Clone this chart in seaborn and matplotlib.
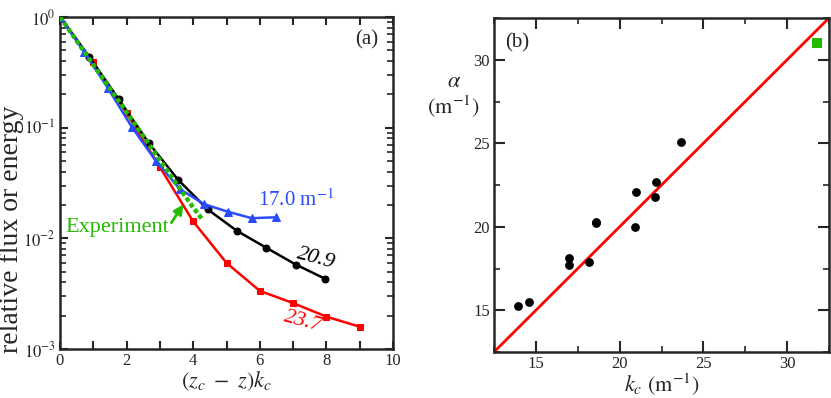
import numpy as np
import pandas as pd
import matplotlib
matplotlib.use("Agg")
import matplotlib.pyplot as plt
from matplotlib.ticker import MultipleLocator, LogLocator, NullFormatter, FuncFormatter
import seaborn as sns

# ---------------- data ----------------
# panel (a): relative flux vs (z_c - z) k_c
blue_x = [0, 0.72, 1.44, 2.16, 2.88, 3.60, 4.32, 5.04, 5.76, 6.48]
blue_y = [1.0, 0.486, 0.227, 0.101, 0.050, 0.0279, 0.0204, 0.0174, 0.0152, 0.0155]

black_x = [0, 0.885, 1.77, 2.66, 3.54, 4.43, 5.31, 6.20, 7.08, 7.97]
black_y = [1.0, 0.432, 0.180, 0.073, 0.034, 0.0183, 0.0117, 0.0082, 0.0058, 0.0043]

red_x = [0, 1, 2, 3, 4, 5, 6, 7, 8, 9]
red_y = [1.0, 0.39, 0.135, 0.044, 0.0142, 0.0060, 0.00335, 0.0026, 0.00196, 0.00159]

exp_x = [0, 0.5, 1.0, 1.5, 2.0, 2.5, 3.0, 3.5, 4.0, 4.3]
exp_y = [1.0, 0.61, 0.37, 0.225, 0.138, 0.084, 0.051, 0.031, 0.019, 0.0145]

# panel (b): alpha vs k_c
kc = [13.95, 14.57, 16.98, 16.98, 18.2, 18.6, 18.6, 20.9, 21.0, 22.1, 22.2, 23.65]
alpha = [15.26, 15.48, 18.15, 17.72, 17.87, 20.3, 20.2, 20.0, 22.1, 21.8, 22.7, 25.1]
exp_kc = [31.8]
exp_alpha = [31.0]
line_x = [12.5, 32.5]
line_y = [12.5, 32.5]

# ---------------- style ----------------
sns.set_theme(style="ticks")
plt.rcParams['font.family'] = ['Liberation Serif', 'DejaVu Serif']
plt.rcParams['mathtext.fontset'] = 'stix'
plt.rcParams['axes.linewidth'] = 1.8
plt.rcParams['xtick.direction'] = 'in'
plt.rcParams['ytick.direction'] = 'in'
plt.rcParams['xtick.top'] = True
plt.rcParams['ytick.right'] = True

fig = plt.figure(figsize=(8.31, 3.98), dpi=100)
axa = fig.add_axes([60/831, 1-349/398, 333/831, 332/398])
axb = fig.add_axes([494/831, 1-352/398, 335/831, 334/398])

lw = 1.8
sns.lineplot(x=red_x, y=red_y, ax=axa, color='#ff0000', lw=lw, marker='s', ms=5,
             mec='#ff0000', estimator=None, sort=False, zorder=2)
sns.lineplot(x=black_x, y=black_y, ax=axa, color='black', lw=lw, marker='o', ms=5,
             mec='black', estimator=None, sort=False, zorder=3)
sns.lineplot(x=blue_x, y=blue_y, ax=axa, color='#2b4bff', lw=lw, marker='^', ms=6,
             mec='#2b4bff', estimator=None, sort=False, zorder=4)
sns.lineplot(x=exp_x, y=exp_y, ax=axa, color='#22bb00', lw=3.2,
             linestyle=(0, (1, 0.6)), estimator=None, sort=False, zorder=5)

axa.set_yscale('log')
axa.set_xlim(0, 10)
axa.set_ylim(1e-3, 1)
axa.xaxis.set_major_locator(MultipleLocator(2))
axa.xaxis.set_minor_locator(MultipleLocator(1))
axa.yaxis.set_major_locator(LogLocator(base=10))
axa.yaxis.set_minor_locator(LogLocator(base=10, subs=np.arange(2, 10)))
axa.yaxis.set_minor_formatter(NullFormatter())
axa.yaxis.set_major_formatter(FuncFormatter(lambda v, p: r'$\mathrm{10^{%d}}$' % int(round(np.log10(v)))))
axa.tick_params(which='major', length=6, width=1.5, labelsize=12, pad=3)
axa.tick_params(which='minor', length=4, width=1.2)
axa.tick_params(axis='x', which='minor', length=6, width=1.5)
axa.set_xlabel(r'$(z_c\ -\ z)k_c$', fontsize=16, labelpad=0)
axa.set_ylabel('relative flux or energy', fontsize=20)
axa.yaxis.set_label_coords(-0.108, 0.36)

axa.text(0.92, 0.93, '(a)', transform=axa.transAxes, fontsize=15, ha='center', va='center')
axa.text(5.95, 0.0222, r'17.0 m$^{\mathrm{-1}}$', color='#2b4bff', fontsize=15, ha='left', va='center')
axa.text(7.68, 0.0065, '20.9', color='black', fontsize=16, style='italic', rotation=-15,
         ha='center', va='center')
axa.text(7.3, 0.00178, '23.7', color='#ff0000', fontsize=16, style='italic', rotation=-15,
         ha='center', va='center')
axa.annotate('', xy=(3.75, 0.0213), xytext=(3.3, 0.0132),
             arrowprops=dict(arrowstyle='-|>', color='#22bb00', lw=2, mutation_scale=14))
axa.text(0.15, 0.0125, 'Experiment', color='#22bb00', fontsize=16, ha='left', va='center')

# panel (b)
sns.lineplot(x=line_x, y=line_y, ax=axb, color='#ff0000', lw=2, estimator=None, zorder=2)
sns.scatterplot(x=kc, y=alpha, ax=axb, color='black', s=40, edgecolor='black', linewidth=0, zorder=3)
sns.scatterplot(x=exp_kc, y=exp_alpha, ax=axb, color='#22bb00', marker='s', s=45,
                edgecolor='#22bb00', linewidth=0, zorder=3)
axb.set_xlim(12.5, 32.5)
axb.set_ylim(12.5, 32.5)
axb.xaxis.set_major_locator(MultipleLocator(5))
axb.xaxis.set_minor_locator(MultipleLocator(2.5))
axb.yaxis.set_major_locator(MultipleLocator(5))
axb.yaxis.set_minor_locator(MultipleLocator(2.5))
axb.tick_params(which='major', length=8, width=1.5, labelsize=12, pad=3)
axb.tick_params(which='minor', length=4, width=1.2)
axb.set_xlabel(r'$k_c\ (\mathrm{m}^{-1})$', fontsize=16, labelpad=0)
axb.set_ylabel('$\\alpha$\n$(\\mathrm{m}^{-1})$', fontsize=16, rotation=0, ha='center', va='center',
               multialignment='center', linespacing=1.1)
axb.yaxis.set_label_coords(-0.12, 0.765)
axb.text(0.069, 0.925, '(b)', transform=axb.transAxes, fontsize=15, ha='center', va='center')

for ax in (axa, axb):
    for s in ax.spines.values():
        s.set_linewidth(1.8)
    if ax.get_legend():
        ax.get_legend().remove()

fig.savefig('out.png', dpi=100)
